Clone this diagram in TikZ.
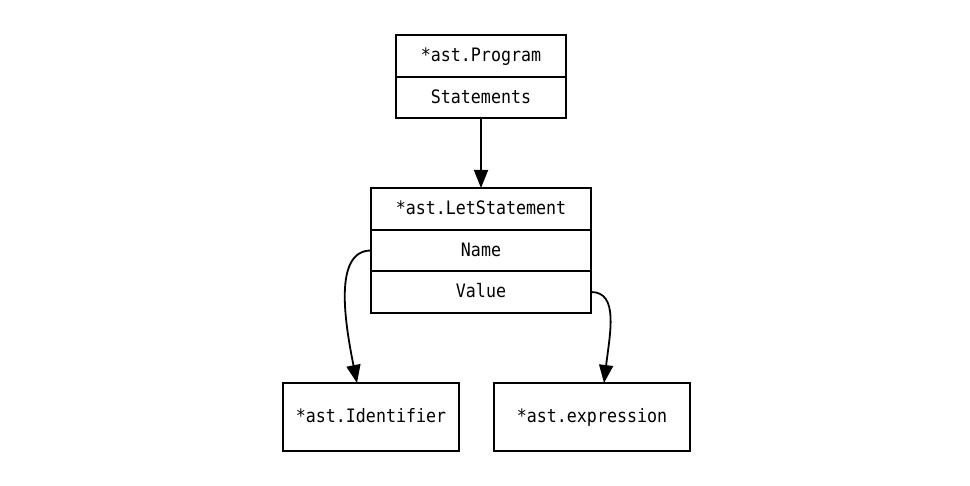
\documentclass[tikz,border=0pt]{standalone}
\usepackage{fontspec}
\setmonofont{DejaVu Sans Mono}[FakeStretch=0.9]
\usetikzlibrary{positioning, arrows.meta}
\begin{document}
\begin{tikzpicture}[x=1pt, y=-1pt]
        \tikzstyle{field}=[draw, line width=1.8pt, outer sep=0pt, inner sep=0pt,
            font=\ttfamily\fontsize{18.5}{22}\selectfont, text height=1.4em, text depth=0.2em]
        \tikzstyle{link}=[line width=1.8pt, -{Triangle[length=18pt, width=14pt]}]
        \useasboundingbox (0,0) rectangle (970,486);
        % Program
        \node[field, minimum width=170pt, minimum height=42pt] (prog) at (481,56) {*ast.Program};
        \node[field, minimum width=170pt, minimum height=41pt, below=0pt of prog] (stmts) {Statements};
        % LetStatement
        \node[field, minimum width=220pt, minimum height=42pt] (letst) at (481,209) {*ast.LetStatement};
        \node[field, minimum width=220pt, minimum height=41pt, below=0pt of letst] (name) {Name};
        \node[field, minimum width=220pt, minimum height=42pt, below=0pt of name] (value) {Value};
        % Leaves
        \node[field, minimum width=176pt, minimum height=68pt] (ident) at (371,417) {*ast.Identifier};
        \node[field, minimum width=196pt, minimum height=68pt] (expr) at (592,417) {*ast.expression};
        % Edges
        \draw[link] (stmts.south) -- (letst.north);
        \draw[link] (name.west) .. controls +(-38,0) and +(-12,-60) .. ([xshift=-14pt]ident.north);
        \draw[link] (value.east) .. controls +(28,0) and +(6,-50) .. ([xshift=12pt]expr.north);
    \end{tikzpicture}
\end{document}
